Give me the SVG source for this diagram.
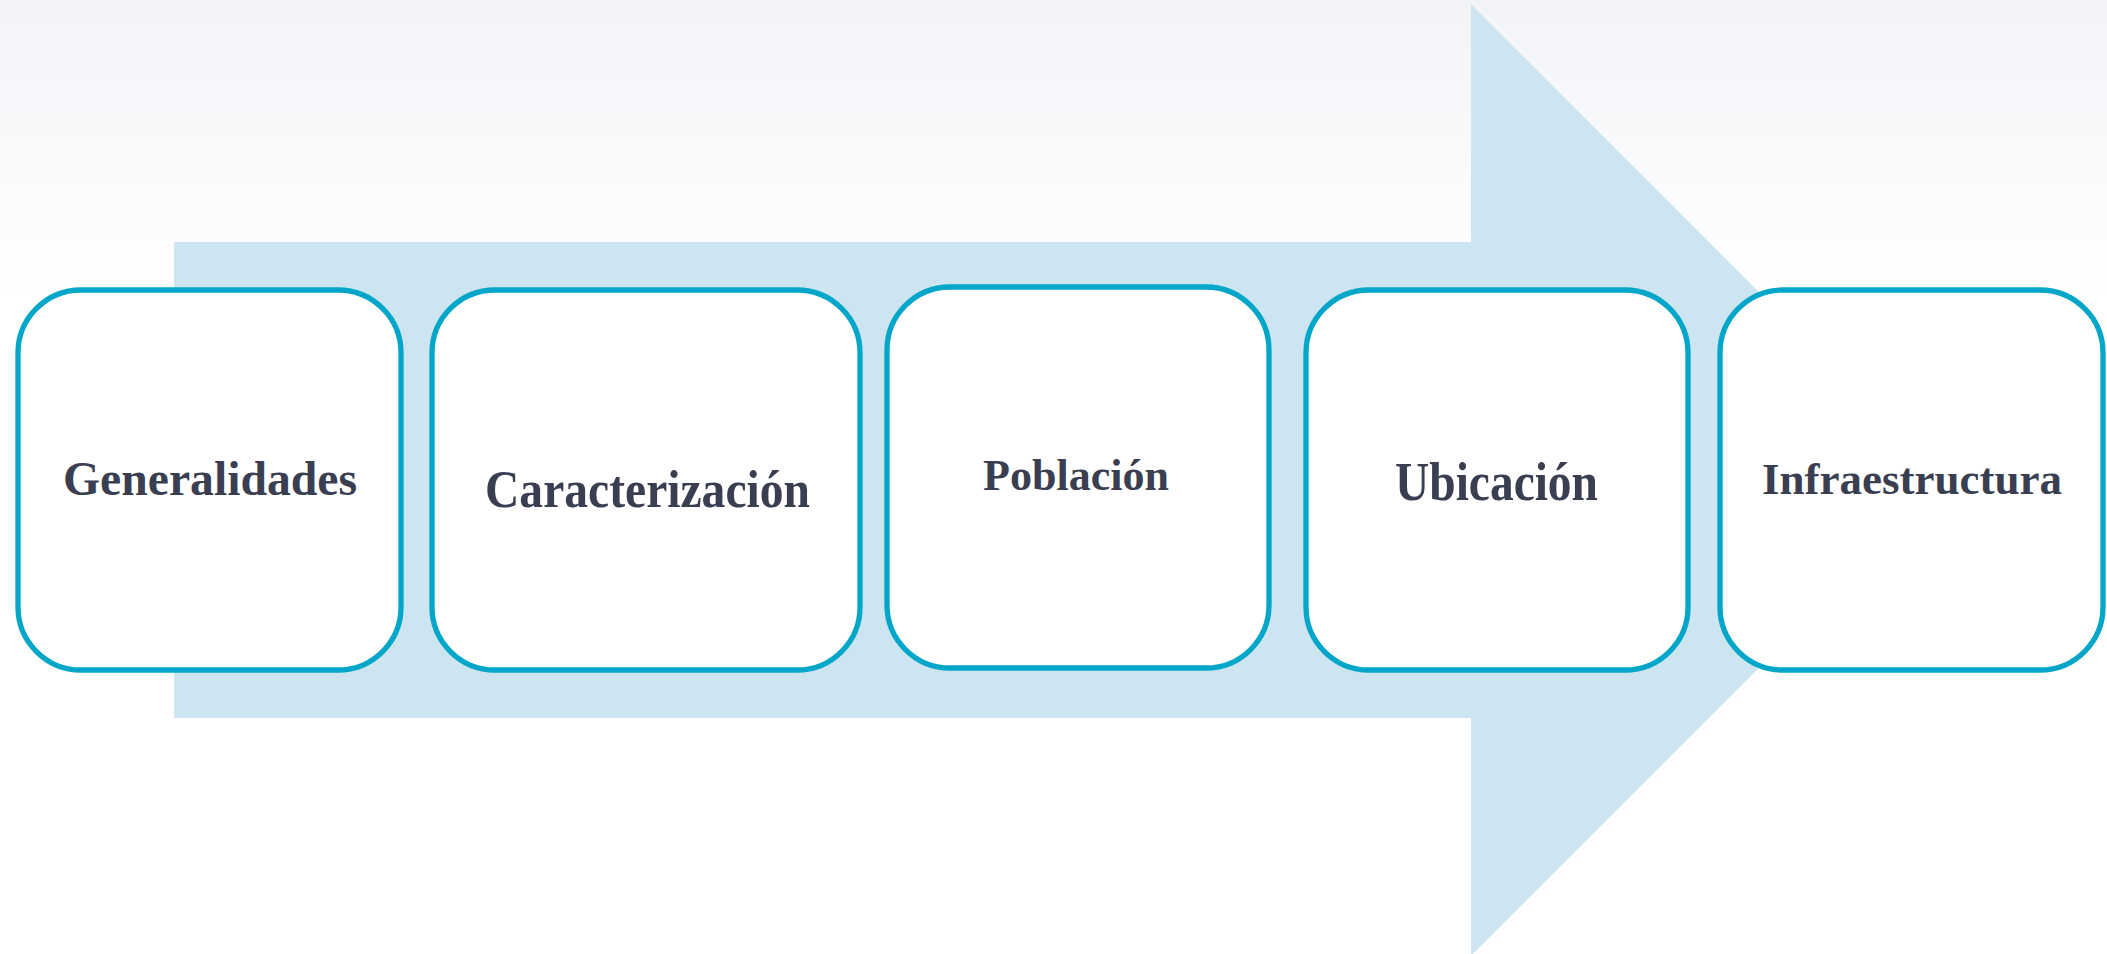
<svg xmlns="http://www.w3.org/2000/svg" width="2107" height="954" viewBox="0 0 2107 954">
  <defs>
    <linearGradient id="bg" x1="0" y1="0" x2="0" y2="1">
      <stop offset="0" stop-color="#F3F4F8"/>
      <stop offset="1" stop-color="#FFFFFF"/>
    </linearGradient>
    <style>
      .box { fill: #FFFFFF; stroke: #02A6C9; stroke-width: 5.3; }
      .lbl { font-family: "Liberation Serif", "Times New Roman", serif; font-weight: bold; fill: #3A3E51; text-anchor: middle; }
    </style>
  </defs>
  <rect x="0" y="0" width="2107" height="954" fill="#FFFFFF"/>
  <rect x="0" y="0" width="2107" height="292" fill="url(#bg)"/>
  <g id="connectors">
    <path id="arrow" d="M174,242 H1471 V4 L1947,480 L1471,956 V718 H174 Z" fill="#CCE5F1"/>
  </g>
  <g id="node-generalidades">
    <rect class="box" x="18" y="290" width="383" height="380" rx="63" ry="63"/>
    <text class="lbl" x="210" y="495" font-size="48" textLength="294" lengthAdjust="spacingAndGlyphs">Generalidades</text>
  </g>
  <g id="node-caracterizacion">
    <rect class="box" x="432" y="290" width="428" height="380" rx="63" ry="63"/>
    <text class="lbl" x="647.5" y="507" font-size="53" textLength="325" lengthAdjust="spacingAndGlyphs">Caracterización</text>
  </g>
  <g id="node-poblacion">
    <rect class="box" x="887" y="287" width="382" height="381" rx="63" ry="63"/>
    <text class="lbl" x="1076" y="490" font-size="44" textLength="186" lengthAdjust="spacingAndGlyphs">Población</text>
  </g>
  <g id="node-ubicacion">
    <rect class="box" x="1306" y="290" width="382" height="380" rx="63" ry="63"/>
    <text class="lbl" x="1496.5" y="500" font-size="54" textLength="203" lengthAdjust="spacingAndGlyphs">Ubicación</text>
  </g>
  <g id="node-infraestructura">
    <rect class="box" x="1720" y="290" width="383" height="380" rx="63" ry="63"/>
    <text class="lbl" x="1912" y="494" font-size="45" textLength="300" lengthAdjust="spacingAndGlyphs">Infraestructura</text>
  </g>
</svg>
